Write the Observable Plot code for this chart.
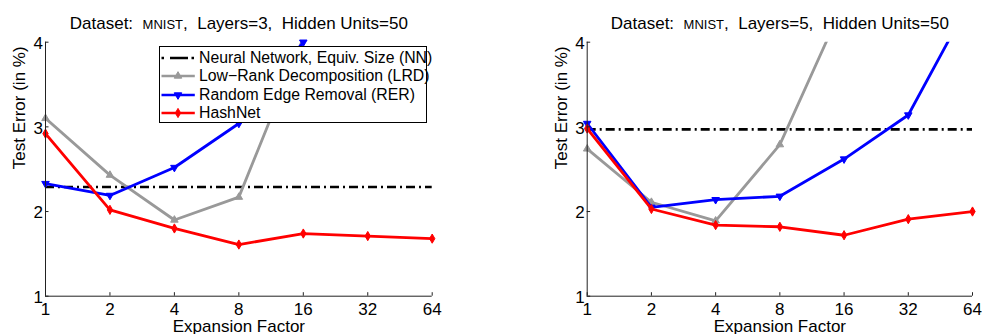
<!DOCTYPE html>
<html><head><meta charset="utf-8">
<script src="https://cdn.jsdelivr.net/npm/d3@7"></script>
<script src="https://cdn.jsdelivr.net/npm/@observablehq/plot@0.6"></script>
<style>
body{margin:0;background:#fff;font-family:"Liberation Sans",Arial,sans-serif;}
#wrap{position:relative;width:982px;height:334px;display:flex;overflow:hidden;background:#fff}
.legend{position:absolute;left:158.5px;top:46px;width:268.5px;height:77px;border:1px solid #000;background:#fff;box-sizing:border-box;font-size:15.8px;color:#000}
.legend .row{position:absolute;left:0;height:18px;width:100%}
.legend .row svg{position:absolute;left:0;top:0}
.legend .row span{position:absolute;left:39.5px;top:0;line-height:18px;white-space:nowrap}
</style>
</head><body>
<div id="wrap"></div>
<script>
// ---- data ----
const expansion = [1, 2, 4, 8, 16, 32, 64];
const yTicks = [1, 2, 3, 4];
const seriesNames = ["Neural Network, Equiv. Size (NN)", "Low\u2212Rank Decomposition (LRD)", "Random Edge Removal (RER)", "HashNet"];
const titlePrefix = "Dataset:";
const datasetName = "MNIST";
const layersLabels = ["Layers=3", "Layers=5"];
const hiddenLabel = "Hidden Units=50";
const xLabel = "Expansion Factor";
const yLabel = "Test Error (in %)";

// panel 1: Layers=3
const nnL3 = 2.29;
const lrdL3 = [3.10, 2.43, 1.90, 2.17, 4.05];
const rerL3 = [2.33, 2.19, 2.52, 3.04, 4.00];
const hashL3 = [2.92, 2.02, 1.80, 1.61, 1.74, 1.71, 1.68];
// panel 2: Layers=5
const nnL5 = 2.97;
const lrdL5 = [2.74, 2.11, 1.89, 2.79, 4.47];
const rerL5 = [3.04, 2.05, 2.14, 2.18, 2.62, 3.14, 4.54];
const hashL5 = [2.98, 2.03, 1.84, 1.82, 1.72, 1.91, 2.00];

// ---- style ----
const colors = {nn: "#000", lrd: "#999999", rer: "#0000ff", hash: "#ff0000"};
const nnDash = "9,4,2,4";
const triDown = {
  draw(context, size) {
    const s3 = Math.sqrt(3);
    const y = Math.sqrt(size / (s3 * 3));
    context.moveTo(0, y * 2);
    context.lineTo(-s3 * y, -y);
    context.lineTo(s3 * y, -y);
    context.closePath();
  }
};
const W = 491, H = 334, MT = 41.7, MB = 38.3;
const font = "Liberation Sans, Arial, sans-serif";

function rows(vals) { return vals.map((v, i) => ({x: expansion[i], y: v})); }

function panel(nn, lrd, rer, hash, layersText, ml, mr) {
  const ymax = yTicks[yTicks.length - 1];
  const plotH = H - MT - MB, plotW = W - ml - mr;
  const series = [
    {d: rows(lrd), c: colors.lrd, s: "triangle"},
    {d: rows(rer), c: colors.rer, s: triDown},
    {d: rows(hash), c: colors.hash, s: "diamond"}
  ];
  const fullTitle = titlePrefix + "  " + datasetName + ",  " + layersText + ",  " + hiddenLabel;
  const marks = [
    Plot.ruleY([nn], {stroke: colors.nn, strokeWidth: 2.7, strokeDasharray: nnDash})
  ];
  for (const s of series) {
    marks.push(Plot.line(s.d, {x: "x", y: "y", stroke: s.c, strokeWidth: 2.8, clip: true}));
    marks.push(Plot.dot(s.d.filter(p => p.y <= ymax + 1e-9), {x: "x", y: "y", r: 2.8, symbol: s.s, fill: s.c, stroke: s.c, strokeWidth: 1}));
  }
  marks.push(
    Plot.ruleX([expansion[0]], {stroke: "#222", strokeWidth: 1}),
    Plot.ruleY([yTicks[0]], {stroke: "#222", strokeWidth: 1}),
    Plot.tickX(expansion, {x: d => d, insetTop: plotH - 3.5, stroke: "#222", strokeWidth: 1}),
    Plot.tickY(yTicks, {y: d => d, insetRight: plotW - 3.5, stroke: "#222", strokeWidth: 1}),
    Plot.axisX(expansion, {tickSize: 0, tickPadding: 7, tickFormat: d => String(d), fontSize: 17, label: null}),
    Plot.axisY(yTicks, {tickSize: 0, tickPadding: 2.5, dy: 1.5, tickFormat: d => String(d), fontSize: 17, label: null}),
    Plot.text([xLabel], {frameAnchor: "bottom", lineAnchor: "middle", dy: 30.5, fontSize: 17, fill: "#000"}),
    Plot.text([yLabel], {frameAnchor: "left", lineAnchor: "middle", dx: -26, rotate: -90, fontSize: 17, fill: "#000"}),
    Plot.text([fullTitle], {frameAnchor: "top", lineAnchor: "middle", dy: -18.3, fontSize: 17, fill: "#000"})
  );
  const svg = Plot.plot({
    width: W, height: H,
    marginLeft: ml, marginRight: mr, marginTop: MT, marginBottom: MB,
    style: {fontFamily: font, fontSize: "17px", color: "#000", background: "#fff", overflow: "visible"},
    x: {type: "log", base: 2, domain: [expansion[0], expansion[expansion.length - 1]], axis: null},
    y: {domain: [yTicks[0], ymax], axis: null},
    marks
  });
  // small-caps dataset name in title
  d3.select(svg).selectAll("text").filter(function() { return this.textContent === fullTitle; })
    .each(function() {
      const t = d3.select(this);
      t.text(null).style("white-space", "pre");
      t.append("tspan").text(titlePrefix + "  ");
      t.append("tspan").attr("font-size", 13).text(datasetName);
      t.append("tspan").text(",  " + layersText + ",  " + hiddenLabel);
    });
  return svg;
}

const wrap = document.getElementById("wrap");
wrap.appendChild(panel(nnL3, lrdL3, rerL3, hashL3, layersLabels[0], 45, 59.3));
wrap.appendChild(panel(nnL5, lrdL5, rerL5, hashL5, layersLabels[1], 95.7, 10));

// legend (left panel)
const legend = document.createElement("div");
legend.className = "legend";
const legendItems = [
  {c: colors.nn, dash: "2.5,6,18,3.5,2.5", sym: null},
  {c: colors.lrd, dash: null, sym: "triangle"},
  {c: colors.rer, dash: null, sym: "down"},
  {c: colors.hash, dash: null, sym: "diamond"}
];
const rowCenters = [10.8, 28.5, 47.5, 66.2];
legendItems.forEach((it, i) => {
  const row = document.createElement("div");
  row.className = "row";
  row.style.top = (rowCenters[i] - 9) + "px";
  const s = d3.create("svg").attr("width", 38).attr("height", 18);
  s.append("line").attr("x1", 1.5).attr("x2", 34.8).attr("y1", 9).attr("y2", 9)
    .attr("stroke", it.c).attr("stroke-width", 2.7).attr("stroke-dasharray", it.dash);
  if (it.sym) {
    const size = Math.PI * 2.8 * 2.8;
    const symType = it.sym === "triangle" ? d3.symbolTriangle : it.sym === "diamond" ? d3.symbolDiamond : triDown;
    s.append("path").attr("d", d3.symbol(symType, size)()).attr("transform", "translate(18,9)")
      .attr("fill", it.c).attr("stroke", it.c).attr("stroke-width", 1);
  }
  row.appendChild(s.node());
  const sp = document.createElement("span");
  sp.textContent = seriesNames[i];
  row.appendChild(sp);
  legend.appendChild(row);
});
wrap.appendChild(legend);
</script>
</body></html>
